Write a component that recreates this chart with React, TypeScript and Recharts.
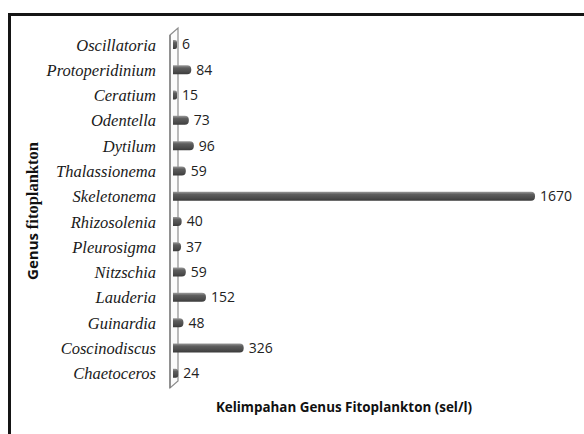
import React from 'react';
import {
  BarChart,
  Bar,
  XAxis,
  YAxis,
  LabelList,
  ReferenceArea,
} from 'recharts';

// genus names, top to bottom as in the figure
const genera = [
  'Oscillatoria',
  'Protoperidinium',
  'Ceratium',
  'Odentella',
  'Dytilum',
  'Thalassionema',
  'Skeletonema',
  'Rhizosolenia',
  'Pleurosigma',
  'Nitzschia',
  'Lauderia',
  'Guinardia',
  'Coscinodiscus',
  'Chaetoceros',
];

const abundance = [6, 84, 15, 73, 96, 59, 1670, 40, 37, 59, 152, 48, 326, 24];

const xDomain = [0, 1670];

const data = genera.map((g, i) => ({ genus: g, value: abundance[i] }));

// thin 3D "wall" behind the category axis
const Wall = (props: any) => {
  const { x, y, height } = props;
  const lx = x - 3;
  const rx = x + 5;
  const pts = [
    [lx, y + 3],
    [rx, y - 4],
    [rx, y + height - 5],
    [lx, y + height + 2],
  ]
    .map((p) => p.join(','))
    .join(' ');
  return (
    <g>
      <polygon points={pts} fill="#fbfbfb" stroke="#8c8c8c" strokeWidth={1.2} />
      <line x1={lx} y1={y + 3} x2={lx} y2={y + height + 2} stroke="#777" strokeWidth={1.2} />
    </g>
  );
};

const YTitle = (props: any) => {
  const vb = props.viewBox || {};
  const cx = 32;
  const cy = vb.y + vb.height / 2 + 2;
  return (
    <text
      x={cx}
      y={cy}
      transform={`rotate(-90 ${cx} ${cy})`}
      textAnchor="middle"
      dominantBaseline="central"
      fontWeight="bold"
      fontSize={15}
      fill="#111"
    >
      <tspan fontFamily="'Open Sans', sans-serif">Genus </tspan>
      <tspan fontFamily="'Liberation Serif', serif" fontSize={16.5}>fitoplankton</tspan>
    </text>
  );
};

const XTitle = (props: any) => {
  const vb = props.viewBox || {};
  return (
    <text
      x={344}
      y={vb.y + 26}
      textAnchor="middle"
      fontFamily="'Open Sans', sans-serif"
      fontWeight="bold"
      fontSize={13.4}
      fill="#111"
    >
      Kelimpahan Genus Fitoplankton (sel/l)
    </text>
  );
};

export default function App() {
  return (
    <div style={{ position: 'absolute', left: 0, top: 0, width: 584, height: 434, background: '#fff' }}>
      <div
        style={{
          position: 'absolute',
          left: 8,
          top: 13,
          width: 576,
          height: 421,
          borderTop: '3px solid #151515',
          borderLeft: '3px solid #151515',
          boxSizing: 'border-box',
        }}
      />
      <div style={{ position: 'absolute', left: 0, top: 0 }}>
        <BarChart
          width={584}
          height={434}
          data={data}
          layout="vertical"
          margin={{ top: 32, right: 49, left: 0, bottom: 18 }}
          barSize={9}
        >
          <defs>
            <linearGradient id="barGrad" x1="0" y1="0" x2="0" y2="1">
              <stop offset="0%" stopColor="#9a9a9a" />
              <stop offset="30%" stopColor="#5e5e5e" />
              <stop offset="75%" stopColor="#4a4a4a" />
              <stop offset="100%" stopColor="#3a3a3a" />
            </linearGradient>
          </defs>
          <XAxis
            type="number"
            domain={xDomain}
            height={30}
            tick={false}
            axisLine={false}
            tickLine={false}
            label={<XTitle />}
          />
          <YAxis
            type="category"
            dataKey="genus"
            width={173}
            axisLine={false}
            tickLine={false}
            tickSize={6}
            tickMargin={11}
            interval={0}
            tick={{
              fontFamily: "'Liberation Serif', serif",
              fontStyle: 'italic',
              fontSize: 16.5,
              fill: '#1a1a1a',
            }}
            label={<YTitle />}
          />
          <ReferenceArea x1={0} x2={20} shape={<Wall />} fill="none" stroke="none" />
          <Bar
            dataKey="value"
            fill="url(#barGrad)"
            radius={[0, 4, 4, 0]}
            minPointSize={4}
            isAnimationActive={false}
          >
            <LabelList
              dataKey="value"
              position="right"
              offset={5}
              fill="#222"
              fontFamily="'Open Sans', sans-serif"
              fontSize={14}
            />
          </Bar>
        </BarChart>
      </div>
    </div>
  );
}
